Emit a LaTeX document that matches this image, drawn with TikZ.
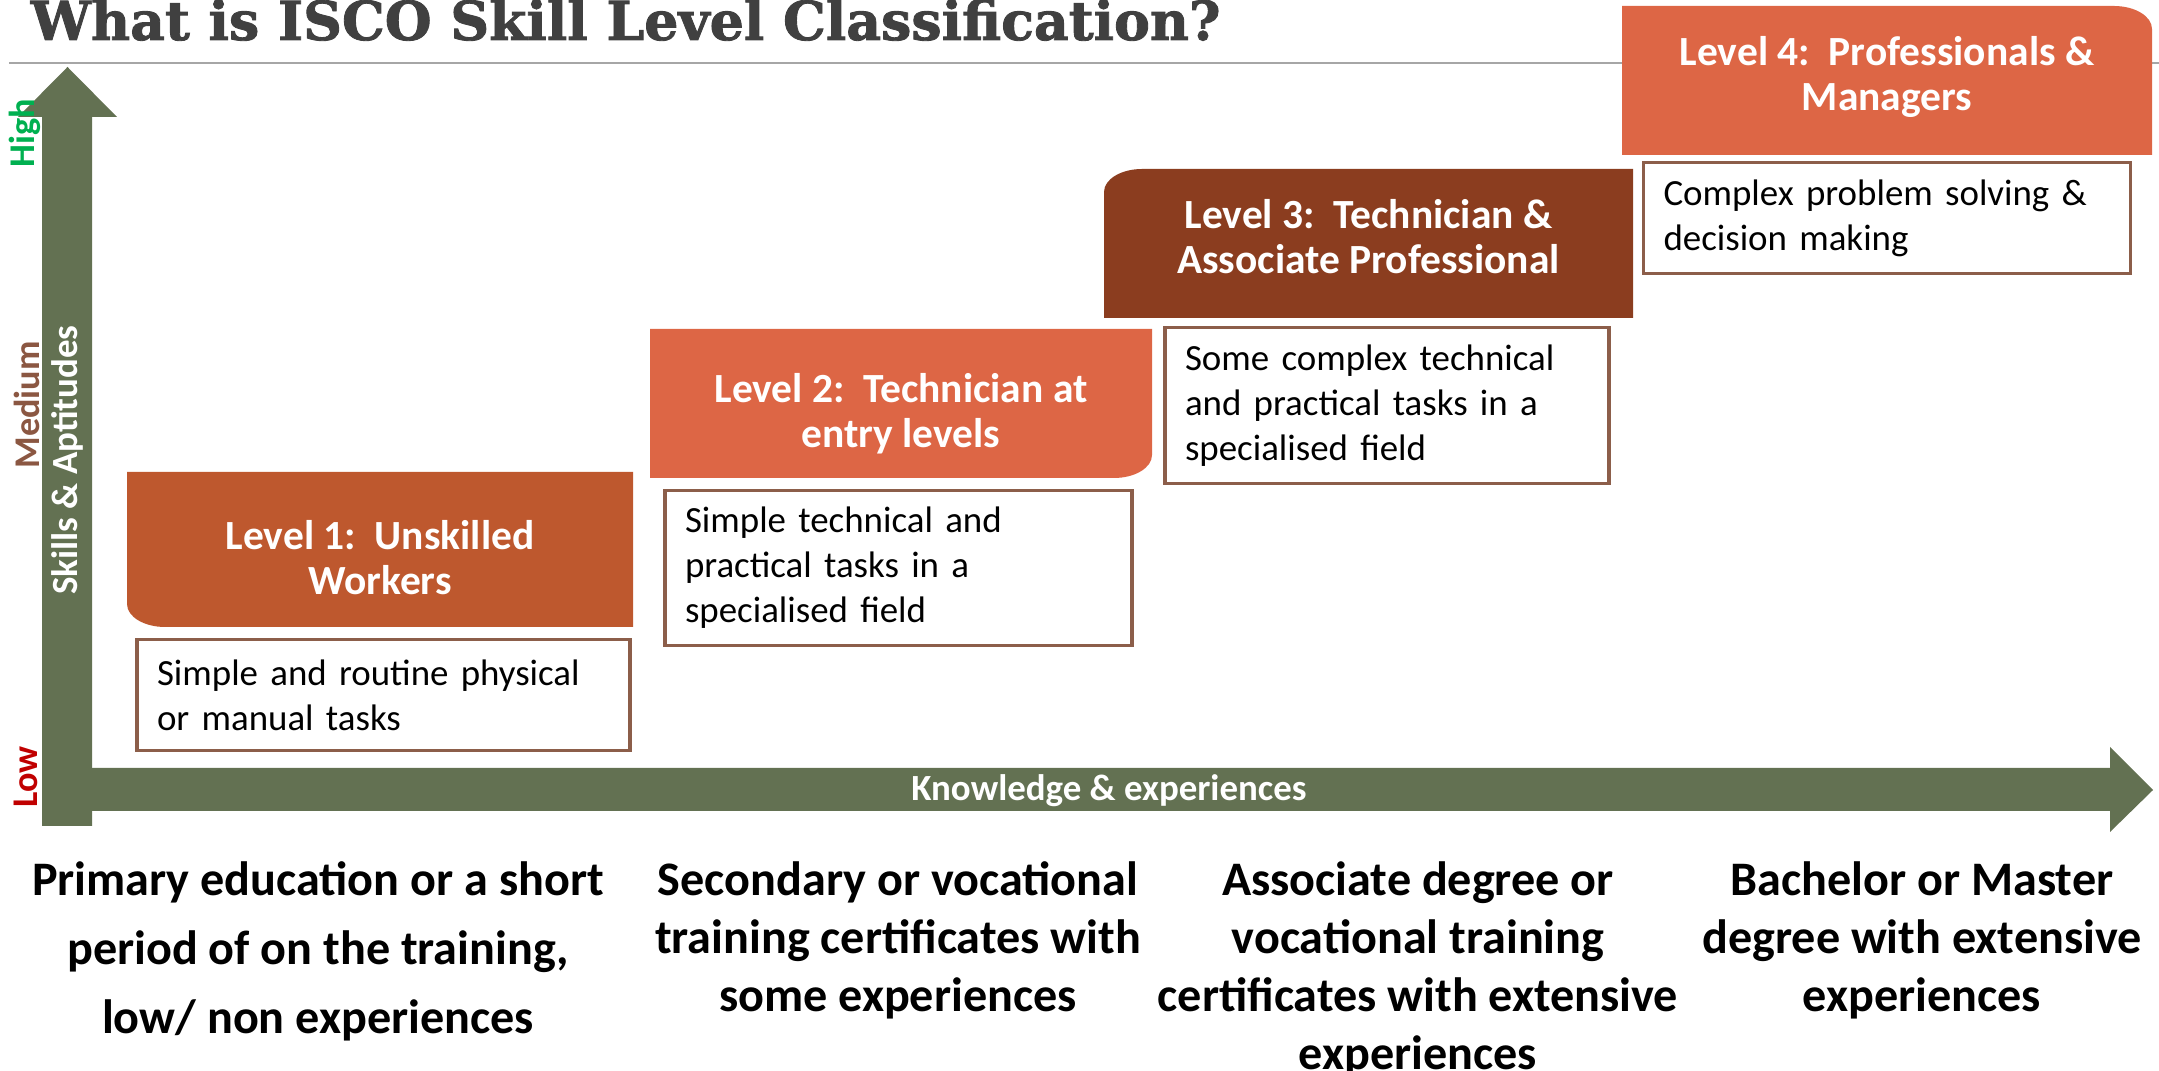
\documentclass[tikz,border=0pt]{standalone}
\usepackage{fontspec}
\setmainfont{Carlito}
\newfontfamily\titlefont{DejaVu Serif}[BoldFeatures={FakeBold=1.6}]
\usetikzlibrary{positioning,backgrounds}

\definecolor{axisgreen}{RGB}{99,113,82}
\definecolor{rust}{RGB}{190,88,46}
\definecolor{coral}{RGB}{221,102,69}
\definecolor{darkbrown}{RGB}{139,61,31}
\definecolor{descline}{RGB}{140,94,74}
\definecolor{highgreen}{RGB}{0,176,80}
\definecolor{midbrown}{RGB}{139,87,66}
\definecolor{lowred}{RGB}{192,0,0}
\definecolor{titlegray}{RGB}{64,64,64}

\begin{document}
\begin{tikzpicture}[
  hdr/.style={rectangle, inner sep=0pt, outer sep=0pt},
  hdrtext/.style={inner sep=0pt, text=white, align=center,
                  font=\fontsize{11.8}{12.8}\selectfont\bfseries},
  desc/.style={rectangle, draw=descline, line width=0.9pt, fill=white,
               align=left, inner xsep=0.2cm, inner ysep=0pt,
               font=\fontsize{10.5}{12.8}\selectfont},
  edu/.style={align=center, inner sep=0pt, anchor=north,
              font=\fontsize{13.7}{16.5}\selectfont\bfseries},
  side/.style={rotate=90, inner sep=0pt,
               font=\fontsize{10.3}{12}\selectfont\bfseries}
]
\useasboundingbox (0,0) rectangle (21.59,10.71);
\clip (0,0) rectangle (21.59,10.71);

% Title
\node[anchor=base west, inner sep=0pt, text=titlegray,
      font=\titlefont\bfseries\fontsize{15.3}{18}\selectfont]
  (title) at (0.30,10.31) {What is ISCO Skill Level Classification?};

% Level headers (boxes, then their text)
\node[hdr, minimum width=5.06cm, minimum height=1.55cm] (l1) at (3.80,5.215) {};
\node[hdr, minimum width=5.02cm, minimum height=1.49cm] (l2) at (9.01,6.675) {};
\node[hdr, minimum width=5.29cm, minimum height=1.49cm] (l3) at (13.685,8.275) {};
\node[hdr, minimum width=5.30cm, minimum height=1.49cm] (l4) at (18.87,9.905) {};

\node[hdrtext] (t1) at ([yshift=-0.08cm]l1.center) {Level 1:\ \ Unskilled\\Workers};
\node[hdrtext] (t2) at ([yshift=-0.10cm]l2.center) {Level 2:\ \ Technician at\\entry levels};
\node[hdrtext] (t3) at ([yshift=0.07cm]l3.center) {Level 3:\ \ Technician \&\\Associate Professional};
\node[hdrtext] (t4) at ([yshift=0.04cm]l4.center) {Level 4:\ \ Professionals \&\\Managers};

% Task descriptions
\node[desc, text width=4.53cm, minimum height=1.11cm,
      below=0.11cm of l1, xshift=0.035cm] (d1)
  {Simple and routine physical\\or manual tasks};
\node[desc, text width=4.27cm, minimum height=1.55cm,
      below=0.11cm of l2, xshift=-0.025cm] (d2)
  {Simple technical and\\practical tasks in a\\specialised field};
\node[desc, text width=4.04cm, minimum height=1.56cm,
      below=0.08cm of l3, xshift=0.185cm] (d3)
  {Some complex technical\\and practical tasks in a\\specialised field};
\node[desc, text width=4.47cm, minimum height=1.11cm,
      below=0.06cm of l4] (d4)
  {Complex problem solving \&\\decision making};

% Education under the axis
\node[edu, font=\fontsize{13.7}{19.6}\selectfont\bfseries] (e1) at (3.18,2.10)
  {Primary education or a short\\period of on the training,\\low/ non experiences};
\node[edu] (e2) at (8.98,2.10)
  {Secondary or vocational\\training certificates with\\some experiences};
\node[edu] (e3) at (14.18,2.10)
  {Associate degree or\\vocational training\\certificates with extensive\\experiences};
\node[edu] (e4) at (19.22,2.10)
  {Bachelor or Master\\degree with extensive\\experiences};

% Axis labels
\node[text=white, inner sep=0pt, font=\fontsize{10.5}{12}\selectfont\bfseries]
  (xlab) at (11.09,2.80) {Knowledge \& experiences};
\node[side, text=white, font=\fontsize{10.5}{12}\selectfont\bfseries]
  (ylab) at (0.67,6.11) {Skills \& Aptitudes};
\node[side, text=highgreen] (high) at (0.245,9.38) {High};
\node[side, text=midbrown] (mid) at (0.27,6.66) {Medium};
\node[side, text=lowred] (low) at (0.26,2.94) {Low};

\begin{scope}[on background layer]
  % rule under the title
  \draw[gray!70, line width=0.025cm] (0.09,10.08) -- (21.59,10.08);
  % axes
  \fill[axisgreen] (0.42,2.45) -- (0.42,9.54) -- (0.18,9.54) -- (0.675,10.04)
    -- (1.17,9.54) -- (0.92,9.54) -- (0.92,2.45) -- cycle;
  \fill[axisgreen] (0.42,2.60) -- (0.42,3.03) -- (21.10,3.03) -- (21.10,3.24)
    -- (21.53,2.81) -- (21.10,2.39) -- (21.10,2.60) -- cycle;
  % header shapes, one round corner each
  \fill[rust] (l1.north west) -- (l1.north east) -- (l1.south east)
    -- ([xshift=0.38cm]l1.south west)
    arc[start angle=270, end angle=180, x radius=0.38cm, y radius=0.23cm] -- cycle;
  \fill[coral] (l2.north west) -- (l2.north east)
    -- ([yshift=0.23cm]l2.south east)
    arc[start angle=0, end angle=-90, x radius=0.38cm, y radius=0.23cm]
    -- (l2.south west) -- cycle;
  \fill[darkbrown] ([yshift=-0.23cm]l3.north west)
    arc[start angle=180, end angle=90, x radius=0.38cm, y radius=0.23cm]
    -- (l3.north east) -- (l3.south east) -- (l3.south west) -- cycle;
  \fill[coral] (l4.north west) -- ([xshift=-0.38cm]l4.north east)
    arc[start angle=90, end angle=0, x radius=0.38cm, y radius=0.23cm]
    -- (l4.south east) -- (l4.south west) -- cycle;
\end{scope}
\end{tikzpicture}
\end{document}
